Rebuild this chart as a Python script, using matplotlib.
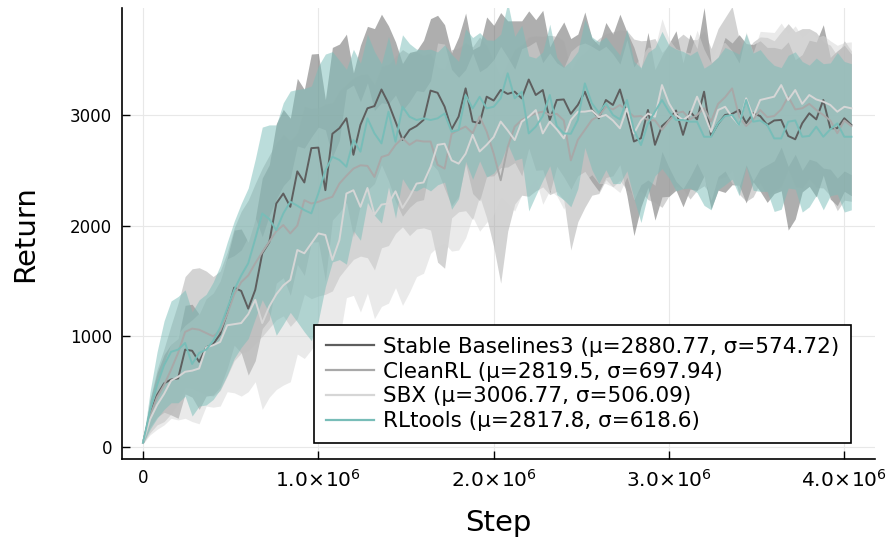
import numpy as np
import matplotlib
matplotlib.use("Agg")
import matplotlib.pyplot as plt

# ---------------- data ----------------
step_interval = 40000
n_points = 102
steps = np.arange(n_points) * step_interval

names = ["Stable Baselines3 (μ=2880.77, σ=574.72)",
         "CleanRL (μ=2819.5, σ=697.94)",
         "SBX (μ=3006.77, σ=506.09)",
         "RLtools (μ=2817.8, σ=618.6)"]

sb3_mean = [40, 300, 470, 575, 610, 620, 880, 870, 770, 900,
            930, 1020, 1210, 1440, 1410, 1250, 1420, 1750, 1850, 2200,
            2290, 2170, 2490, 2390, 2700, 2705, 2320, 2830, 2880, 2970,
            2640, 2910, 3060, 3080, 3230, 3105, 2940, 2775, 2865, 2900,
            2955, 3220, 3200, 3075, 2870, 2985, 3240, 2940, 2925, 3165,
            3130, 3225, 3190, 3210, 3150, 3320, 3180, 3225, 2955, 3135,
            3140, 3010, 3090, 3210, 3045, 2970, 3135, 3090, 3230, 3010,
            2760, 2790, 3045, 2730, 2900, 2955, 3040, 2820, 3030, 2960,
            3210, 2810, 2920, 3000, 3010, 3045, 2925, 3015, 2990, 2910,
            2950, 2955, 2810, 2780, 2925, 3015, 2960, 3135, 2880, 2880,
            2970, 2910]
sb3_std = [10, 120, 200, 260, 320, 360, 400, 420, 430, 440,
           460, 480, 500, 520, 560, 600, 640, 680, 700, 720,
           760, 800, 840, 840, 850, 850, 820, 780, 760, 760,
           740, 720, 740, 700, 680, 700, 720, 690, 700, 680,
           720, 650, 700, 740, 690, 720, 680, 650, 700, 720,
           680, 700, 660, 640, 700, 620, 680, 720, 660, 600,
           700, 680, 640, 720, 650, 660, 700, 640, 680, 740,
           850, 620, 700, 680, 640, 690, 720, 650, 700, 640,
           760, 660, 600, 700, 640, 680, 720, 620, 680, 700,
           660, 640, 850, 720, 620, 660, 700, 680, 640, 700,
           660, 640]

cleanrl_mean = [40, 280, 450, 560, 700, 850, 1040, 1070, 1060, 1030,
                1000, 1050, 1200, 1380, 1490, 1550, 1660, 1760, 1855, 1950,
                2005, 1930, 2000, 2230, 2200, 2215, 2240, 2260, 2380, 2450,
                2515, 2545, 2540, 2440, 2620, 2640, 2730, 2790, 2730, 2770,
                2760, 2760, 2550, 2515, 2830, 2865, 2895, 2835, 2985, 2850,
                2650, 2410, 2710, 2895, 2955, 2985, 3015, 3030, 3000, 3010,
                2950, 2590, 2775, 2865, 2955, 2990, 3075, 3050, 3090, 3040,
                2985, 2990, 2955, 2950, 2865, 2950, 3015, 3030, 2960, 3000,
                3060, 2940, 3100, 3160, 3240, 2985, 2900, 2960, 3045, 2980,
                2990, 3050, 3165, 3050, 3060, 3100, 3045, 3000, 2950, 2835,
                2950, 2900]
cleanrl_std = [10, 150, 250, 330, 400, 450, 500, 540, 560, 560,
               540, 540, 560, 600, 640, 680, 720, 760, 780, 800,
               820, 840, 840, 850, 860, 850, 860, 850, 840, 830,
               820, 820, 830, 840, 820, 820, 800, 800, 820, 800,
               780, 800, 880, 900, 760, 740, 760, 780, 720, 780,
               840, 930, 760, 700, 680, 720, 700, 680, 720, 700,
               720, 810, 740, 700, 680, 700, 660, 700, 680, 720,
               700, 680, 720, 740, 700, 680, 660, 700, 720, 680,
               700, 660, 680, 720, 740, 700, 680, 700, 660, 720,
               680, 700, 660, 700, 720, 680, 700, 660, 680, 700,
               720, 680]

sbx_mean = [40, 250, 380, 480, 600, 635, 680, 690, 710, 900,
            920, 950, 1100, 1110, 1120, 1200, 1330, 1120, 1270, 1380,
            1460, 1510, 1780, 1750, 1840, 1930, 1915, 1690, 1870, 2290,
            2320, 2170, 2340, 2100, 2190, 2200, 2310, 2160, 2260, 2380,
            2390, 2530, 2730, 2740, 2590, 2560, 2650, 2820, 2670, 2730,
            2800, 2940, 2860, 2773, 2939, 2984, 3044, 2833, 2939, 2870,
            2788, 2954, 3029, 3030, 3040, 2980, 3000, 2950, 2879, 3059,
            2833, 2950, 3013, 2984, 3270, 3105, 3000, 2954, 3000, 3165,
            3013, 2848, 3044, 3074, 2980, 2909, 3150, 2984, 3135, 3150,
            3165, 3270, 3135, 3225, 3100, 3180, 3140, 3120, 3090, 3029,
            3074, 3060]
sbx_std = [10, 140, 220, 280, 340, 390, 420, 460, 500, 530,
           560, 580, 600, 620, 660, 700, 740, 780, 820, 860,
           900, 920, 940, 950, 960, 960, 950, 930, 900, 940,
           950, 950, 950, 940, 920, 900, 870, 880, 860, 840,
           820, 780, 920, 900, 820, 780, 760, 740, 720, 700,
           700, 680, 660, 640, 660, 640, 620, 640, 620, 600,
           640, 620, 600, 620, 580, 600, 620, 600, 580, 620,
           600, 580, 600, 620, 600, 580, 600, 620, 560, 600,
           580, 620, 600, 580, 600, 560, 600, 580, 620, 600,
           580, 560, 600, 580, 600, 580, 560, 600, 580, 600,
           580, 600]

rltools_mean = [40, 330, 560, 740, 860, 880, 940, 750, 850, 880,
                960, 1080, 1250, 1420, 1550, 1660, 1880, 2110, 2060, 1960,
                2110, 2216, 2180, 2140, 2111, 2292, 2500, 2622, 2593, 2532,
                2773, 2668, 2969, 2833, 2743, 3029, 2758, 3074, 2984, 2954,
                2969, 2954, 2969, 3013, 2848, 2864, 3180, 3059, 3164, 3059,
                3074, 3150, 3376, 3150, 3210, 2833, 2894, 2990, 3180, 2900,
                2833, 2830, 2954, 3285, 3105, 3020, 3105, 3000, 2960, 3135,
                2864, 2728, 2924, 3030, 3135, 3030, 2954, 2954, 2939, 2939,
                2803, 2803, 2924, 2990, 3000, 2909, 3135, 2939, 2950, 2909,
                2788, 2788, 2939, 2950, 2803, 2810, 2894, 2803, 2870, 2924,
                2803, 2803]
rltools_std = [10, 170, 300, 400, 460, 480, 480, 470, 480, 500,
               530, 560, 600, 620, 650, 680, 720, 780, 850, 950,
               1000, 1000, 1050, 1100, 1150, 1150, 1050, 950, 900, 880,
               820, 800, 760, 740, 720, 680, 690, 650, 660, 640,
               620, 640, 600, 620, 700, 620, 600, 640, 580, 620,
               600, 580, 640, 560, 600, 700, 620, 580, 640, 620,
               600, 660, 620, 580, 600, 640, 600, 620, 580, 640,
               620, 700, 640, 580, 620, 600, 640, 620, 600, 640,
               620, 660, 600, 620, 580, 640, 600, 620, 640, 600,
               660, 640, 600, 620, 680, 640, 620, 660, 600, 640,
               680, 660]

x_ticks = [0, 1e6, 2e6, 3e6, 4e6]
x_tick_labels = ["0", r"$1.0\!\times\!10^{6}$", r"$2.0\!\times\!10^{6}$",
                 r"$3.0\!\times\!10^{6}$", r"$4.0\!\times\!10^{6}$"]
y_ticks = [0, 1000, 2000, 3000]
y_tick_labels = ["0", "1000", "2000", "3000"]

# ---------------- style ----------------
colors = ["#5e5e5e", "#a8a8a8", "#d6d6d6", "#78bdb8"]
plt.rcParams["font.family"] = ["DejaVu Sans"]

fig = plt.figure(figsize=(8.91, 5.43), dpi=100)
ax = fig.add_axes([122 / 891, 84 / 543, 753 / 891, 451 / 543])

series = [(sb3_mean, sb3_std), (cleanrl_mean, cleanrl_std),
          (sbx_mean, sbx_std), (rltools_mean, rltools_std)]

for (m, s), c in zip(series, colors):
    m = np.asarray(m, float)
    s = np.asarray(s, float)
    ax.fill_between(steps, m - s, m + s, color=c, alpha=0.5, lw=0, zorder=1)

for (m, s), c, name in zip(series, colors, names):
    ax.plot(steps, m, color=c, lw=1.4, zorder=2, label=name)

ax.set_xlim(-0.12e6, 4.175e6)
ax.set_ylim(-108, 3966)

ax.set_xticks(x_ticks)
ax.set_xticklabels(x_tick_labels)
ax.set_yticks(y_ticks)
ax.set_yticklabels(y_tick_labels)
for lbl in ax.get_xticklabels():
    lbl.set_fontsize(14.5)
ax.get_xticklabels()[0].set_fontsize(12)
for lbl in ax.get_yticklabels():
    lbl.set_fontsize(12)

ax.tick_params(direction="in", length=6, width=1.0, pad=7, colors="black")
ax.grid(True, color="#e8e8e8", lw=0.8, zorder=0)
ax.set_axisbelow(True)

for side in ["top", "right"]:
    ax.spines[side].set_visible(False)
for side in ["left", "bottom"]:
    ax.spines[side].set_linewidth(1.2)
    ax.spines[side].set_color("black")

ax.set_xlabel("Step", fontsize=21, labelpad=13)
ax.set_ylabel("Return", fontsize=21, labelpad=22)

leg = ax.legend(loc="lower right", bbox_to_anchor=(0.968, 0.0355),
                borderaxespad=0, fontsize=15.5, frameon=True, fancybox=False,
                edgecolor="black", framealpha=1, labelspacing=0.22,
                handlelength=2.25, handletextpad=0.4, borderpad=0.55)
leg.get_frame().set_linewidth(1.2)
for l in leg.get_lines():
    l.set_linewidth(1.6)

fig.savefig("out.png", dpi=100)
